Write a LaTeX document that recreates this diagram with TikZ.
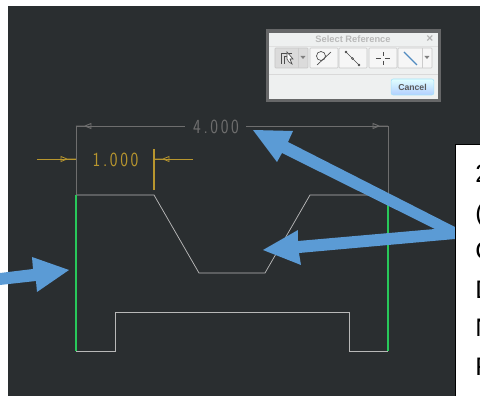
\documentclass[tikz,border=0pt]{standalone}
\usepackage{fontspec}
\setmainfont{Liberation Sans}
\newfontfamily\dimfont[LetterSpace=16]{Latin Modern Sans}
\definecolor{ScreenBg}{HTML}{2A2E30}
\definecolor{CallBlue}{HTML}{5B9BD5}
\definecolor{DimGold}{HTML}{B8962E}
\definecolor{DimGray}{HTML}{6E6E6E}
\definecolor{EdgeGreen}{HTML}{28C85A}
\definecolor{EdgeGray}{HTML}{B8B8B8}
\definecolor{PanelGray}{HTML}{EEF0F0}
\tikzset{
    edgeline/.style={color=EdgeGray,line width=0.55pt},
    selected/.style={color=EdgeGreen,line width=2pt},
    dimline/.style={color=DimGray,line width=0.7pt},
    goldline/.style={color=DimGold,line width=0.6pt},
    dimtext/.style={inner sep=0pt,font=\fontsize{15}{17}\dimfont\selectfont},
    calltext/.style={anchor=base west,inner sep=0pt,font=\fontsize{19}{21}\selectfont},
    toolbtn/.style={draw=black!22,fill=white!93!gray,line width=0.4pt,rounded corners=0.5pt},
    iconline/.style={color=black!70,line width=0.5pt},
}
% small dimension arrow head, tip at (#1), pointing along #2 (1 or -1)
\newcommand\DimTip[3]{%
    \draw[#3] (#1) -- ++(#2*9,0) -- ++(#2*6,2.5) -- ++(0,-5) -- ++(#2*-6,2.5);
}
\begin{document}
\begin{tikzpicture}[x=0.75pt,y=-0.75pt]
    \useasboundingbox (0,0) rectangle (480,396);
    \clip (0,0) rectangle (480,396);
    \fill[ScreenBg] (8,6) rectangle (480,396);
    % part outline
    \draw[edgeline] (76,195) -- (154,195) -- (199,273) -- (265,273) -- (310,195) -- (388,195);
    \draw[edgeline] (76,351) -- (115,351) -- (115,312) -- (349,312) -- (349,351) -- (388,351);
    \draw[selected] (76,195) -- (76,351);
    \draw[selected] (388,195) -- (388,351);
    % dimension 4.000
    \draw[dimline] (76,195) -- (76,126) -- (185,126);
    \draw[dimline] (388,195) -- (388,126) -- (246,126);
    \coordinate (TipA) at (76,126);
    \coordinate (TipB) at (388,126);
    \DimTip{TipA}{1}{dimline}
    \DimTip{TipB}{-1}{dimline}
    \node[DimGray,dimtext] (DimFour) at (216,126.5) {\scalebox{0.82}[1]{4.000}};
    % dimension 1.000
    \draw[goldline] (37,159) -- (76,159);
    \draw[goldline] (154,159) -- (193,159);
    \draw[goldline,line width=1pt] (154,149) -- (154,190);
    \coordinate (TipC) at (76,159);
    \coordinate (TipD) at (154,159);
    \DimTip{TipC}{-1}{goldline}
    \DimTip{TipD}{1}{goldline}
    \node[DimGold,dimtext] (DimOne) at (115.5,159.5) {\scalebox{0.82}[1]{1.000}};
    % select reference dialog
    \fill[gray!70!ScreenBg] (266,29) rectangle (441,102);
    \fill[PanelGray] (269,33) rectangle (438,99);
    \node[gray!55,font=\bfseries\fontsize{7}{8}\selectfont] (DlgTitle) at (353,39) {Select Reference};
    \node[gray!60,font=\bfseries\fontsize{9}{9}\selectfont] (DlgClose) at (430,39) {×};
    \draw[black!12] (269,46) -- (438,46);
    \draw[black!15] (269,74.5) -- (438,74.5);
    \draw[toolbtn,fill=black!14] (275,48) rectangle (308,68);
    \draw[toolbtn] (310,48) rectangle (338,68);
    \draw[toolbtn] (339,48) rectangle (367,68);
    \draw[toolbtn] (369,48) rectangle (397,68);
    \draw[toolbtn] (398,48) rectangle (432,68);
    % button icons
    \draw[iconline] (281,64) -- (281,53) -- (292,53) (284,64) -- (284,56) -- (287,56);
    \draw[iconline,fill=white] (287,52) -- (293,59) -- (290,59) -- (292,64) -- (289,62) -- (287,59) -- cycle;
    \draw[black!20,line width=0.4pt] (298,48) -- (298,68);
    \fill[gray] (300.5,56) -- (305.5,56) -- (303,59) -- cycle;
    \draw[iconline] (321,56) circle (4.5);
    \draw[iconline] (317,65) -- (331,52);
    \draw[iconline] (346,52) -- (359,65);
    \fill[black!70] (346,52) circle (1.3) (359,65) circle (1.3);
    \draw[iconline,fill=white] (352.5,58.5) circle (1);
    \draw[iconline,line width=0.4pt] (376,58.5) -- (381,58.5) (385,58.5) -- (390,58.5) (383,52) -- (383,56) (383,61) -- (383,65);
    \draw[CallBlue!90!black,line width=1pt] (404,52) -- (417,65);
    \draw[black!20,line width=0.4pt] (422,48) -- (422,68);
    \fill[gray] (424.5,56) -- (429.5,56) -- (427,59) -- cycle;
    \node[draw=cyan!35,top color=cyan!12,bottom color=cyan!38!blue!30,rounded corners=1.5pt,minimum width=32pt,minimum height=12pt,inner sep=0pt,font=\bfseries\fontsize{6.5}{8}\selectfont,text=black!65] (DlgCancel) at (412.5,87) {Cancel};
    % callout box
    \draw[fill=white,draw=black,line width=0.5pt] (455,144) rectangle (490,400);
    \node[calltext] (LineA) at (475,183) {2};
    \node[calltext] (LineB) at (475,222) {(};
    \node[calltext] (LineC) at (475,260) {C};
    \node[calltext] (LineD) at (475,299) {D};
    \node[calltext] (LineE) at (475,337) {N};
    \node[calltext] (LineF) at (475,376) {F};
    % call out arrows
    \fill[CallBlue] (455,227) -- (288,142) -- (293,131) -- (253,130) -- (277,162) -- (282,153) -- (435,229)
        -- (298,241) -- (298,230) -- (263,250) -- (301,265) -- (299,253) -- (455,239) -- cycle;
    \fill[CallBlue] (0,273) -- (33,269) -- (32,257) -- (69,270) -- (37,292) -- (36,281) -- (0,285) -- cycle;
\end{tikzpicture}
\end{document}
